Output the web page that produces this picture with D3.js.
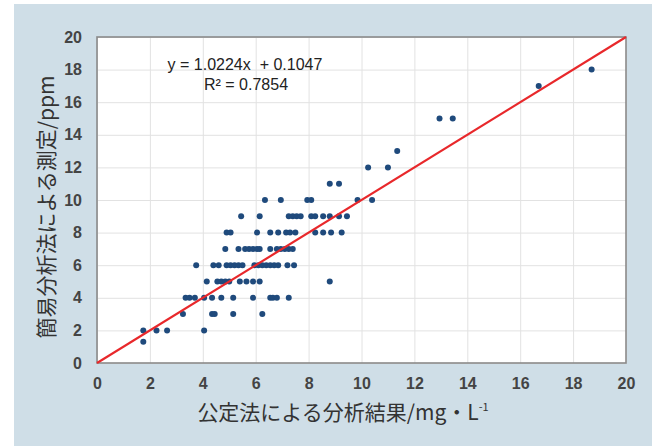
<!DOCTYPE html>
<html>
<head>
<meta charset="utf-8">
<script src="https://cdn.jsdelivr.net/npm/d3@7"></script>
<style>
  body { margin: 0; background: #fff; }
  svg text { font-family: "Liberation Sans", Arial, sans-serif; }
  .title { font-family: "Noto Sans CJK JP", sans-serif !important; }
</style>
</head>
<body>
<div id="chart"></div>
<script>
// kit readings (ppm) - mostly whole numbers
const kitLevels = [1.3, 2, 3, 4, 5, 6, 7, 8, 9, 10, 11, 12, 13, 15, 17, 18];
// official-method results (mg/L) for each kit level above
const officialAtLevel = [
  [1.75],
  [1.75, 2.25, 2.65, 4.05],
  [3.25, 4.35, 4.45, 5.15, 6.25],
  [3.35, 3.5, 3.7, 4.05, 4.35, 4.7, 5.15, 5.9, 6.55, 6.65, 6.8, 7.25],
  [4.15, 4.55, 4.7, 4.85, 5.0, 5.4, 5.65, 5.9, 6.15, 8.8],
  [3.75, 4.4, 4.6, 4.9, 5.05, 5.2, 5.35, 5.5, 5.95, 6.1, 6.25, 6.4, 6.55, 6.7, 6.85, 7.2, 7.45],
  [4.85, 5.35, 5.6, 5.75, 5.9, 6.05, 6.15, 6.55, 6.8, 6.95, 7.1, 7.25, 7.4],
  [4.9, 5.05, 6.05, 6.55, 6.85, 7.15, 7.3, 7.5, 8.25, 8.55, 8.85, 9.25],
  [5.45, 6.15, 7.25, 7.4, 7.55, 7.7, 8.1, 8.25, 8.55, 8.8, 9.15, 9.45],
  [6.35, 6.95, 7.95, 8.1, 9.85, 10.4],
  [8.8, 9.15],
  [10.25, 11.0],
  [11.35],
  [12.95, 13.45],
  [16.7],
  [18.7]
];
const xTicks = [0, 2, 4, 6, 8, 10, 12, 14, 16, 18, 20];
const yTicks = [0, 2, 4, 6, 8, 10, 12, 14, 16, 18, 20];
// trend line as drawn in the original (corner to corner)
const lineX = [0, 20];
const lineY = [0, 20];
const equationLabel = "y = 1.0224x  + 0.1047";
const r2Label = "R² = 0.7854";
const xTitle = "公定法による分析結果/mg・L";
const yTitle = "簡易分析法による測定/ppm";

const width = 659, height = 448;
const margin = { top: 37, right: 33, bottom: 85, left: 97 };
const innerWidth = width - margin.left - margin.right;
const innerHeight = height - margin.top - margin.bottom;

const points = [];
kitLevels.forEach((lv, i) => {
  officialAtLevel[i].forEach(v => points.push({ x: v, y: lv }));
});

const svg = d3.select("#chart")
  .append("svg")
    .attr("width", width)
    .attr("height", height);

// light blue panel
svg.append("rect")
  .attr("x", 14).attr("y", 4)
  .attr("width", 638).attr("height", 442)
  .attr("fill", "#cfdee7");

const g = svg.append("g")
  .attr("transform", `translate(${margin.left},${margin.top})`);

g.append("rect")
  .attr("width", innerWidth).attr("height", innerHeight)
  .attr("fill", "#fff");

const x = d3.scaleLinear().domain([0, 20]).range([0, innerWidth]);
const y = d3.scaleLinear().domain([0, 20]).range([innerHeight, 0]);

// grid
g.append("g")
  .attr("transform", `translate(0,${innerHeight})`)
  .call(d3.axisBottom(x).tickValues(xTicks).tickSize(-innerHeight).tickFormat(""))
  .call(a => a.select(".domain").remove())
  .selectAll("line").attr("stroke", "#e2e2e2");

g.append("g")
  .call(d3.axisLeft(y).tickValues(yTicks).tickSize(-innerWidth).tickFormat(""))
  .call(a => a.select(".domain").remove())
  .selectAll("line").attr("stroke", "#e2e2e2");

// tick labels
g.append("g")
  .attr("transform", `translate(0,${innerHeight})`)
  .call(d3.axisBottom(x).tickValues(xTicks).tickSize(0).tickPadding(15))
  .call(a => a.select(".domain").remove())
  .selectAll("text")
    .attr("font-size", 16)
    .attr("font-weight", "bold")
    .attr("font-family", "Liberation Sans, Arial, sans-serif")
    .attr("fill", "#444");

g.append("g")
  .call(d3.axisLeft(y).tickValues(yTicks).tickSize(0).tickPadding(15))
  .call(a => a.select(".domain").remove())
  .selectAll("text")
    .attr("font-size", 16)
    .attr("font-weight", "bold")
    .attr("font-family", "Liberation Sans, Arial, sans-serif")
    .attr("fill", "#444");

// frame
g.append("rect")
  .attr("width", innerWidth).attr("height", innerHeight)
  .attr("fill", "none")
  .attr("stroke", "#8a8a8a")
  .attr("stroke-width", 1.6);

// points
g.append("g")
  .selectAll("circle")
  .data(points)
  .enter()
  .append("circle")
    .attr("cx", d => x(d.x))
    .attr("cy", d => y(d.y))
    .attr("r", 3)
    .attr("fill", "#1f4a7c");

// trend line
g.append("line")
  .attr("x1", x(lineX[0])).attr("y1", y(lineY[0]))
  .attr("x2", x(lineX[1])).attr("y2", y(lineY[1]))
  .attr("stroke", "#e8282b")
  .attr("stroke-width", 2.2);

// equation
g.append("text")
  .attr("x", 148).attr("y", 33)
  .attr("text-anchor", "middle")
  .attr("font-size", 16)
  .attr("fill", "#222")
  .style("white-space", "pre")
  .text(equationLabel);

g.append("text")
  .attr("x", 149).attr("y", 53)
  .attr("text-anchor", "middle")
  .attr("font-size", 16)
  .attr("fill", "#222")
  .text(r2Label);

// axis titles
const xt = svg.append("text")
  .attr("class", "title")
  .attr("x", 343).attr("y", 420)
  .attr("text-anchor", "middle")
  .attr("font-size", 21)
  .attr("fill", "#333");
xt.append("tspan").text(xTitle);
xt.append("tspan").attr("font-size", 11).attr("dy", -9).text("-1");

svg.append("text")
  .attr("class", "title")
  .attr("transform", "translate(54,207) rotate(-90)")
  .attr("text-anchor", "middle")
  .attr("font-size", 21)
  .attr("fill", "#333")
  .text(yTitle);
</script>
</body>
</html>
